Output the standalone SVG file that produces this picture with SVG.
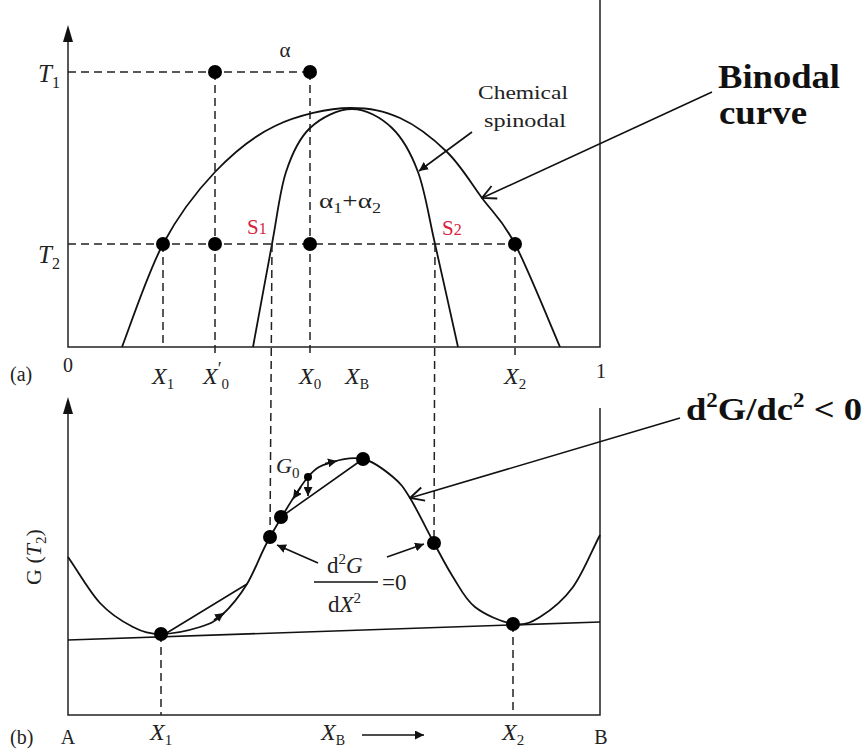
<svg xmlns="http://www.w3.org/2000/svg" width="866" height="749" viewBox="0 0 866 749">
<style>
.ln{fill:none;stroke:#111;stroke-width:1.6}
.ax{fill:none;stroke:#222;stroke-width:1.5}
.cv{fill:none;stroke:#111;stroke-width:1.8}
.ds{fill:none;stroke:#222;stroke-width:1.5;stroke-dasharray:8 5}
.dot{fill:#000}
.t{font-family:"Liberation Serif",serif;fill:#222}
.it{font-style:italic}
.red{fill:#d8223c}
.big{font-family:"Liberation Serif",serif;font-weight:bold;fill:#111}
</style>
<defs>
<marker id="ah" viewBox="0 0 10 10" refX="10" refY="5" markerWidth="9" markerHeight="9" markerUnits="userSpaceOnUse" orient="auto"><path d="M0,0 L10,5 L0,10 z" fill="#111"/></marker>
<marker id="av" viewBox="0 0 14 14" refX="13" refY="7" markerWidth="16" markerHeight="16" markerUnits="userSpaceOnUse" orient="auto"><path d="M1,1 L13,7 L1,13" fill="none" stroke="#111" stroke-width="1.6"/></marker>
</defs>
<rect width="866" height="749" fill="#fff"/>

<g id="panel-a">
<path class="ax" d="M68,30 V347 H600 V0"/>
<path d="M63,42 L68,25 L73,42 z" fill="#111"/>
<path class="ds" d="M68,72 H310 M68,244 H515 M163,244 V347 M215,72 V355 M310,72 V355 M515,244 V355"/>
<path id="binodal" class="cv" d="M122,347 C128.8,329.8 147.5,273.2 163,244 C178.5,214.8 196.3,191.7 215,172 C233.7,152.3 252.5,136.7 275,126 C297.5,115.3 329,108 350,108 C371,108 383.8,110.7 400,118 C416.2,125.3 433.3,138.7 447,152 C460.7,165.3 470.7,182.7 482,198 C493.3,213.3 502,219.2 515,244 C528,268.8 552.5,329.8 560,347"/>
<path id="spinodal" class="cv" d="M253,347 C256.2,329.8 266.5,273.2 272,244 C277.5,214.8 279.7,191.3 286,172 C292.3,152.7 299,138.5 310,128 C321,117.5 338.3,109 352,109 C365.7,109 381,117.5 392,128 C403,138.5 410.8,152.7 418,172 C425.2,191.3 428.3,214.8 435,244 C441.7,273.2 454.2,329.8 458,347"/>
<g class="dot">
<circle cx="215" cy="72" r="7"/><circle cx="310" cy="72" r="7"/>
<circle cx="163" cy="244" r="7"/><circle cx="215" cy="244" r="7"/><circle cx="310" cy="244" r="7"/><circle cx="515" cy="244" r="7"/>
</g>
<text class="t" x="285" y="57" font-size="21" text-anchor="middle">α</text>
<text class="t it" x="38" y="82" font-size="25">T<tspan font-style="normal" font-size="16" dy="6">1</tspan></text>
<text class="t it" x="38" y="263" font-size="25">T<tspan font-style="normal" font-size="16" dy="6">2</tspan></text>
<text class="t" x="478" y="99" font-size="19" textLength="90" lengthAdjust="spacingAndGlyphs">Chemical</text>
<text class="t" x="484" y="127" font-size="19" textLength="82" lengthAdjust="spacingAndGlyphs">spinodal</text>
<text class="t" x="319" y="208" font-size="21" textLength="62" lengthAdjust="spacingAndGlyphs">α<tspan font-size="14" dy="5">1</tspan><tspan dy="-5">+α</tspan><tspan font-size="14" dy="5">2</tspan></text>
<text class="t red" x="247" y="234" font-size="21">S<tspan font-size="16">1</tspan></text>
<text class="t red" x="442" y="235" font-size="21">S<tspan font-size="16">2</tspan></text>
<text class="t" x="10" y="381" font-size="20">(a)</text>
<text class="t" x="68" y="372" font-size="20" text-anchor="middle">0</text>
<text class="t" x="601" y="378" font-size="20" text-anchor="middle">1</text>
<text class="t it" x="152" y="384" font-size="24">X<tspan font-style="normal" font-size="15" dy="5">1</tspan></text>
<text class="t it" x="203" y="384" font-size="24">X<tspan font-style="normal" font-size="18" dy="-9">′</tspan><tspan font-style="normal" font-size="15" dy="14">0</tspan></text>
<text class="t it" x="299" y="384" font-size="24">X<tspan font-style="normal" font-size="15" dy="5">0</tspan></text>
<text class="t it" x="345" y="384" font-size="24">X<tspan font-style="normal" font-size="14" dy="5">B</tspan></text>
<text class="t it" x="504" y="384" font-size="24">X<tspan font-style="normal" font-size="15" dy="5">2</tspan></text>
</g>

<g id="panel-b">
<path class="ax" d="M68,402 V715 H600 V408"/>
<path d="M63,414 L68,397 L73,414 z" fill="#111"/>
<path class="ds" d="M272,244 L270,537 M435,244 L434,543 M161,634 V715 M513,624 V715"/>
<path id="gcurve" class="cv" d="M68,557 C78.7,572.3 89.2,591.3 100,603 C110.8,614.7 122.8,621.8 133,627 C143.2,632.2 149.8,634 161,634 C172.2,634 189.8,630.2 200,627 C210.2,623.8 214.2,622.2 222,615 C229.8,607.8 239,597 247,584 C255,571 259.8,554.8 270,537 C280.2,519.2 297.5,489.5 308,477 C318.5,464.5 323.8,465 333,462 C342.2,459 353,457 363,459 C373,461 385.2,470.5 393,477 C400.8,483.5 403.2,487 410,498 C416.8,509 426.8,529.8 434,543 C441.2,556.2 446.2,566.3 453,577 C459.8,587.7 465,599.2 475,607 C485,614.8 502.2,622.3 513,624 C523.8,625.7 530,623.2 540,617 C550,610.8 563,600.7 573,587 C583,573.3 591,552.3 600,535"/>
<path class="ln" d="M68,640 L600,622"/>
<path class="ln" d="M281,517 L363,459 M165,634 L247,584"/>
<g class="dot">
<circle cx="161" cy="634" r="7"/><circle cx="513" cy="624" r="7"/>
<circle cx="270" cy="537" r="7"/><circle cx="281" cy="517" r="7"/>
<circle cx="363" cy="459" r="7"/><circle cx="434" cy="543" r="7"/>
<circle cx="308" cy="477" r="4"/>
</g>
<text class="t" transform="translate(41,557) rotate(-90)" font-size="22" text-anchor="middle">G (<tspan font-style="italic">T</tspan><tspan font-size="15" dy="5">2</tspan><tspan dy="-5">)</tspan></text>
<text class="t it" x="276" y="473" font-size="22">G<tspan font-style="normal" font-size="15" dy="5">0</tspan></text>
<text class="t" x="327" y="573" font-size="23">d<tspan font-size="15" dy="-9">2</tspan><tspan font-style="italic" dy="9">G</tspan></text>
<path class="ln" d="M314,582 H378" stroke-width="1.3"/>
<text class="t" x="382" y="590" font-size="23">=0</text>
<text class="t" x="328" y="612" font-size="23">d<tspan font-style="italic">X</tspan><tspan font-size="15" dy="-9">2</tspan></text>
<text class="t" x="10" y="744" font-size="20">(b)</text>
<text class="t" x="68" y="744" font-size="20" text-anchor="middle">A</text>
<text class="t" x="601" y="744" font-size="20" text-anchor="middle">B</text>
<text class="t it" x="150" y="740" font-size="24">X<tspan font-style="normal" font-size="15" dy="5">1</tspan></text>
<text class="t it" x="321" y="740" font-size="24">X<tspan font-style="normal" font-size="14" dy="5">B</tspan></text>
<text class="t it" x="502" y="740" font-size="24">X<tspan font-style="normal" font-size="15" dy="5">2</tspan></text>
</g>

<g id="connectors">
<path class="ln" d="M362,735 H424" stroke-width="1.4" marker-end="url(#ah)"/>
<path class="ln" d="M472,132 L419,171" stroke-width="1.4" marker-end="url(#ah)"/>
<path class="ln" d="M712,92 L482,198" stroke-width="1.7" marker-end="url(#av)"/>
<path class="ln" d="M680,418 L410,498" stroke-width="1.7" marker-end="url(#av)"/>
<path class="ln" d="M318,563 L277,545" stroke-width="1.4" marker-end="url(#ah)"/>
<path class="ln" d="M387,557 L424,544" stroke-width="1.4" marker-end="url(#ah)"/>
<path class="ln" d="M325,463.5 L337,461" stroke-width="1.2" marker-end="url(#ah)"/>
<path class="ln" d="M301,487 L293,499" stroke-width="1.2" marker-end="url(#ah)"/>
<path class="ln" d="M308,481 L308,496" stroke-width="1.2" marker-end="url(#ah)"/>
<path class="ln" d="M214,620 L224,613" stroke-width="1.2" marker-end="url(#ah)"/>
</g>

<g id="callouts">
<text class="big" x="718" y="88" font-size="33" textLength="122" lengthAdjust="spacingAndGlyphs">Binodal</text>
<text class="big" x="719" y="124" font-size="33" textLength="88" lengthAdjust="spacingAndGlyphs">curve</text>
<text class="big" x="686" y="420" font-size="32" textLength="176" lengthAdjust="spacingAndGlyphs">d<tspan font-size="20" dy="-13">2</tspan><tspan dy="13">G/dc</tspan><tspan font-size="20" dy="-13">2</tspan><tspan dy="13"> &lt; 0</tspan></text>
</g>
</svg>
